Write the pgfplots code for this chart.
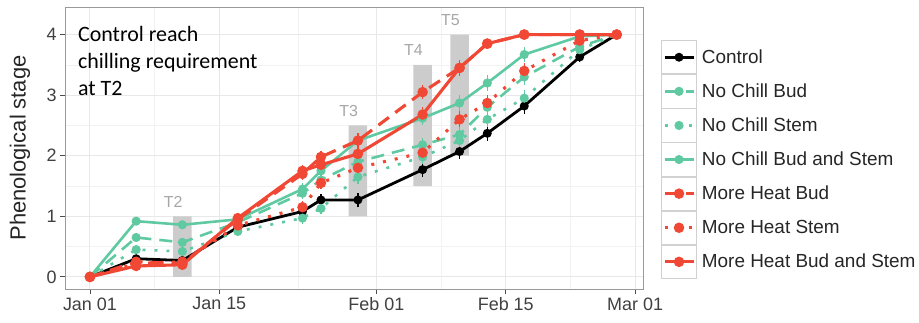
\documentclass[border=0pt]{standalone}
\usepackage{pgfplots}
\pgfplotsset{compat=1.18}
\usepackage{pgfplotstable}
\usepackage{fontspec}
\setmainfont{Liberation Sans}
\newfontfamily\calibri{Carlito}
\definecolor{grn}{RGB}{95,201,162}
\definecolor{redx}{RGB}{240,72,52}

% day, Control, NoChill Bud&Stem (solid), NoChill Bud (dashed), NoChill Stem (dotted),
% MoreHeat Bud&Stem (solid), MoreHeat Bud (dashed), MoreHeat Stem (dotted),
% e = error half-width, er = error half-width for the faster More Heat series
\pgfplotstableread{
day ctrl gS gD gT rS rD rT e er
0  0    0    0    0    0    0    0    0    0
5  0.30 0.92 0.65 0.45 0.18 0.25 0.22 0.05 0.05
10 0.27 0.86 0.57 0.42 0.20 0.22 0.25 0.06 0.06
16 0.82 0.95 0.90 0.75 0.97 0.95 0.85 0.08 0.08
23 1.08 1.45 1.38 0.97 1.75 1.70 1.15 0.10 0.10
25 1.27 1.75 1.60 1.13 1.85 1.98 1.55 0.10 0.10
29 1.27 2.25 1.90 1.65 2.03 2.25 1.80 0.12 0.12
36 1.77 2.62 2.18 1.98 2.68 3.05 2.05 0.12 0.12
40 2.07 2.87 2.35 2.25 3.45 3.45 2.60 0.13 0.13
43 2.37 3.20 2.80 2.60 3.85 3.85 2.87 0.13 0.06
47 2.82 3.67 3.30 2.95 4.00 4.00 3.40 0.13 0
53 3.63 3.97 3.80 3.75 4.00 4.00 3.90 0.08 0
57 4.00 4.00 4.00 4.00 4.00 4.00 4.00 0    0
}\data

\pgfplotsset{
  eb/.style={error bars/.cd, y dir=both, y explicit, error mark=none,
    error bar style={line width=1.4bp, solid}},
}

\begin{document}
\begin{tikzpicture}
\useasboundingbox (-65bp,-34bp) rectangle (854bp,289bp);
\begin{axis}[
  scale only axis, width=578bp, height=282bp,
  xmin=-2.7, xmax=59.85, ymin=-0.2, ymax=4.455,
  xtick={0,14,31,45,59}, xticklabels={Jan 01,Jan 15,Feb 01,Feb 15,Mar 01},
  minor xtick={7,22.5,38,52},
  ytick={0,1,2,3,4}, minor ytick={0.5,1.5,2.5,3.5},
  grid=both,
  major grid style={black!9, line width=0.9bp},
  minor grid style={black!5, line width=0.5bp},
  axis line style={black!40, line width=0.8bp},
  tick pos=left, tick align=outside,
  major tick style={black!70, line width=0.8bp}, major tick length=5bp,
  minor tick length=0pt,
  tick label style={font=\fontsize{18}{20}\selectfont, text=black!75},
  /pgf/number format/assume math mode=true,
  ylabel={Phenological stage},
  ylabel style={font=\fontsize{22}{24}\selectfont, at={(axis description cs:-0.078,0.5)}, anchor=center, text=black!85},
  legend style={at={(rel axis cs:1.031,0.883)}, anchor=north west, draw=none, fill=none,
    font=\fontsize{19}{21}\selectfont, row sep=0pt, column sep=5bp, inner sep=0pt,
    nodes={inner sep=0pt, text=black!85}},
  legend cell align=left,
  legend image code/.code={
    \draw[black!18, line width=0.8bp, solid, fill=white] (0bp,-16.65bp) rectangle (35bp,16.65bp);
    \draw[#1, mark repeat=2, mark phase=2] plot coordinates {(3bp,0bp) (17.5bp,0bp) (32bp,0bp)};
  },
]
% shaded treatment windows
\addplot[fill=black!20, draw=none, forget plot] coordinates {(9,0) (11,0) (11,1) (9,1) (9,0)};
\addplot[fill=black!20, draw=none, forget plot] coordinates {(28,1) (30,1) (30,2.5) (28,2.5) (28,1)};
\addplot[fill=black!20, draw=none, forget plot] coordinates {(35,1.5) (37,1.5) (37,3.5) (35,3.5) (35,1.5)};
\addplot[fill=black!20, draw=none, forget plot] coordinates {(39,2) (41,2) (41,4) (39,4) (39,2)};

\addplot[black, line width=2.8bp, mark=*, mark size=3bp, mark options={solid}, eb] table[x=day,y=ctrl,y error=e]{\data};
\addlegendentry{Control}
\addplot[grn, line width=2.6bp, dash pattern=on 13bp off 8bp, mark=*, mark size=3.2bp, mark options={solid}, eb] table[x=day,y=gD,y error=e]{\data};
\addlegendentry{No Chill Bud}
\addplot[grn, line width=2.6bp, dash pattern=on 3bp off 9bp, mark=*, mark size=3.2bp, mark options={solid}, eb] table[x=day,y=gT,y error=e]{\data};
\addlegendentry{No Chill Stem}
\addplot[grn, line width=2.6bp, mark=*, mark size=3.2bp, mark options={solid}, eb] table[x=day,y=gS,y error=e]{\data};
\addlegendentry{No Chill Bud and Stem}
\addplot[redx, line width=3.1bp, dash pattern=on 13bp off 8bp, mark=*, mark size=3.6bp, mark options={solid}, eb] table[x=day,y=rD,y error=er]{\data};
\addlegendentry{More Heat Bud}
\addplot[redx, line width=3.1bp, dash pattern=on 3bp off 9bp, mark=*, mark size=3.6bp, mark options={solid}, eb] table[x=day,y=rT,y error=e]{\data};
\addlegendentry{More Heat Stem}
\addplot[redx, line width=3.1bp, mark=*, mark size=3.6bp, mark options={solid}, eb] table[x=day,y=rS,y error=er]{\data};
\addlegendentry{More Heat Bud and Stem}

\node[text=black!35, font=\fontsize{16}{18}\selectfont] at (axis cs:9,1.24) {T2};
\node[text=black!35, font=\fontsize{16}{18}\selectfont] at (axis cs:28,2.74) {T3};
\node[text=black!35, font=\fontsize{16}{18}\selectfont] at (axis cs:35,3.74) {T4};
\node[text=black!35, font=\fontsize{16}{18}\selectfont] at (axis cs:39,4.24) {T5};

\node[anchor=north west, align=left, inner sep=0pt, font=\calibri\fontsize{22}{27}\selectfont]
  at (axis cs:-1.3,4.14) {Control reach\\chilling requirement\\at T2};
\end{axis}
\end{tikzpicture}
\end{document}
